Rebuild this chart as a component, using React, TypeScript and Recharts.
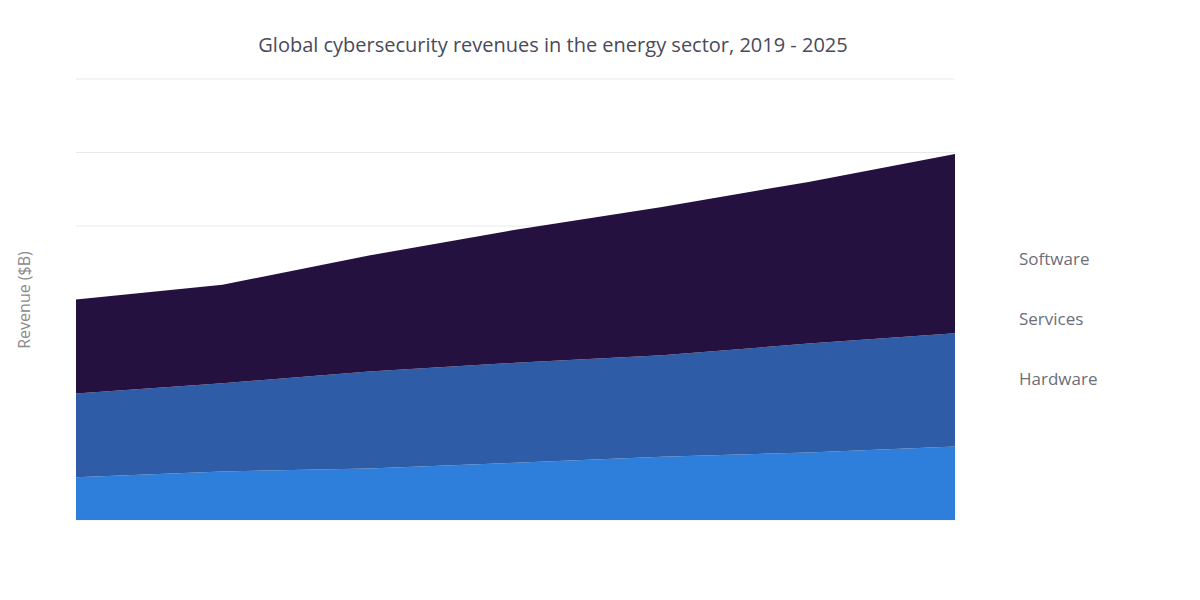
import { AreaChart, Area, XAxis, YAxis, CartesianGrid } from "recharts";

const years = ["2019", "2020", "2021", "2022", "2023", "2024", "2025"];
const hardware = [2.9, 3.3, 3.5, 3.9, 4.3, 4.6, 5.0];
const services = [5.7, 6.0, 6.6, 6.8, 6.9, 7.4, 7.7];
const software = [6.4, 6.7, 7.9, 9.05, 10.1, 11.0, 12.2];
const yTicks = [0, 5, 10, 15, 20, 25, 30];

const SERIES = [
  { key: "Software", color: "#24113f" },
  { key: "Services", color: "#2e5ca6" },
  { key: "Hardware", color: "#2e7edb" },
];

const data = years.map((year, i) => ({
  year,
  Hardware: hardware[i],
  Services: services[i],
  Software: software[i],
}));

const FONT = "'Open Sans', 'Noto Sans', sans-serif";

function SideLegend() {
  return (
    <div
      style={{
        position: "absolute", left: 1019, top: 248,
        fontFamily: FONT, fontSize: 17, color: "#6e6e78",
      }}
    >
      {SERIES.map((s) => (
        <div key={s.key} style={{ height: 60, lineHeight: "22px" }}>
          {s.key}
        </div>
      ))}
    </div>
  );
}

export default function App() {
  return (
    <div style={{ position: "absolute", left: 0, top: 0, width: 1200, height: 600, background: "#fff" }}>
      <div
        style={{
          position: "absolute", top: 31, left: 0, width: 1106, textAlign: "center",
          fontFamily: FONT, fontSize: 20, color: "#4a4a5c",
        }}
      >
        Global cybersecurity revenues in the energy sector, 2019 - 2025
      </div>
      <div
        style={{
          position: "absolute", left: 24, top: 300, transform: "translate(-50%, -50%) rotate(-90deg)",
          fontFamily: FONT, fontSize: 16, color: "#8a8a8a", whiteSpace: "nowrap",
        }}
      >
        Revenue ($B)
      </div>
      <SideLegend />
      <div style={{ position: "absolute", left: 0, top: 0 }}>
        <AreaChart width={1200} height={600} data={data} margin={{ top: 79, right: 245, left: 76, bottom: 70 }}>
          <CartesianGrid horizontal vertical={false} stroke="#e9e9ec" />
          <XAxis dataKey="year" height={10} tick={false} axisLine={false} tickLine={{ stroke: "#eee" }} />
          <YAxis hide domain={[0, 30]} ticks={yTicks} />
          {[...SERIES].reverse().map((s) => (
            <Area
              key={s.key}
              type="linear"
              dataKey={s.key}
              stackId="rev"
              stroke="none"
              fill={s.color}
              fillOpacity={1}
              isAnimationActive={false}
            />
          ))}
        </AreaChart>
      </div>
    </div>
  );
}
